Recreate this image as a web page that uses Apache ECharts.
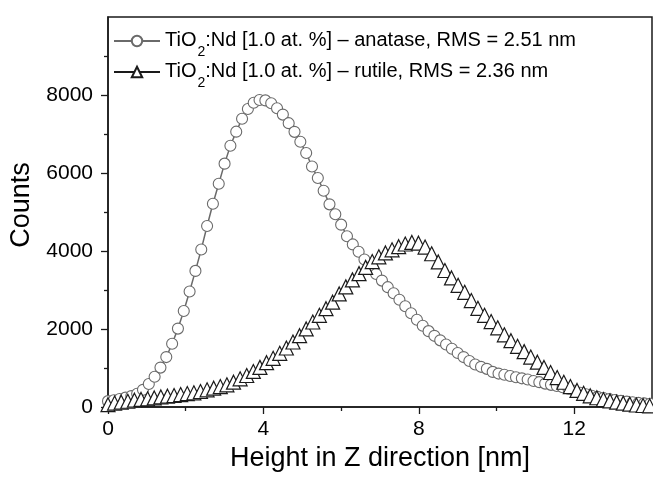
<!DOCTYPE html>
<html>
<head>
<meta charset="utf-8">
<title>Height distribution</title>
<script src="https://cdn.jsdelivr.net/npm/echarts@6/dist/echarts.min.js"></script>
<style>
  html, body { margin: 0; padding: 0; background: #fff; }
  #chart { width: 653px; height: 477px; }
</style>
</head>
<body>
<div id="chart"></div>
<script>
// Height histograms (counts per bin) for the two TiO2:Nd films
const anataseName = 'TiO2:Nd [1.0 at. %] \u2013 anatase, RMS = 2.51 nm';
const rutileName = 'TiO2:Nd [1.0 at. %] \u2013 rutile, RMS = 2.36 nm';

const anataseHeight = [
  0.00, 0.15, 0.30, 0.45, 0.60, 0.75, 0.90, 1.05, 1.20, 1.35,
  1.50, 1.65, 1.80, 1.95, 2.10, 2.25, 2.40, 2.55, 2.70, 2.85,
  3.00, 3.15, 3.30, 3.45, 3.60, 3.75, 3.90, 4.05, 4.20, 4.35,
  4.50, 4.65, 4.80, 4.95, 5.10, 5.25, 5.40, 5.55, 5.70, 5.85,
  6.00, 6.15, 6.30, 6.45, 6.60, 6.75, 6.90, 7.05, 7.20, 7.35,
  7.50, 7.65, 7.80, 7.95, 8.10, 8.25, 8.40, 8.55, 8.70, 8.85,
  9.00, 9.15, 9.30, 9.45, 9.60, 9.75, 9.90, 10.05, 10.20, 10.35,
  10.50, 10.65, 10.80, 10.95, 11.10, 11.25, 11.40, 11.55, 11.70, 11.85,
  12.00, 12.15, 12.30, 12.45, 12.60, 12.75, 12.90, 13.05, 13.20, 13.35,
  13.50, 13.65, 13.80, 13.95
];
const anataseCounts = [
  150, 175, 205, 240, 280, 340, 440, 590, 775, 1010,
  1280, 1620, 2010, 2460, 2960, 3490, 4040, 4640, 5210, 5725,
  6240, 6700, 7060, 7390, 7640, 7800, 7870, 7862, 7790, 7660,
  7497, 7278, 7055, 6800, 6513, 6166, 5870, 5546, 5196, 4942,
  4676, 4380, 4169, 3980, 3782, 3591, 3409, 3241, 3073, 2917,
  2750, 2582, 2403, 2239, 2085, 1945, 1825, 1709, 1602, 1495,
  1384, 1280, 1180, 1090, 1030, 978, 900, 857, 827, 796,
  764, 735, 704, 667, 637, 600, 568, 538, 505, 468,
  415, 365, 327, 290, 260, 230, 203, 178, 157, 137,
  120, 105, 93, 82
];

const rutileHeight = [
  0.00, 0.17, 0.34, 0.51, 0.68, 0.85, 1.02, 1.19, 1.36, 1.53,
  1.70, 1.87, 2.04, 2.21, 2.38, 2.55, 2.72, 2.89, 3.06, 3.23,
  3.40, 3.57, 3.74, 3.91, 4.08, 4.25, 4.42, 4.59, 4.76, 4.93,
  5.10, 5.27, 5.44, 5.61, 5.78, 5.95, 6.12, 6.29, 6.46, 6.63,
  6.80, 6.97, 7.14, 7.31, 7.48, 7.65, 7.82, 7.99, 8.16, 8.33,
  8.50, 8.67, 8.84, 9.01, 9.18, 9.35, 9.52, 9.69, 9.86, 10.03,
  10.20, 10.37, 10.54, 10.71, 10.88, 11.05, 11.22, 11.39, 11.56, 11.73,
  11.90, 12.07, 12.24, 12.41, 12.58, 12.75, 12.92, 13.09, 13.26, 13.43,
  13.60, 13.77, 13.94
];
const rutileCounts = [
  60, 100, 124, 148, 174, 194, 210, 233, 258, 277,
  295, 318, 344, 363, 398, 441, 483, 524, 568, 637,
  722, 808, 911, 1016, 1136, 1248, 1377, 1513, 1667, 1829,
  2002, 2180, 2350, 2521, 2687, 2900, 3080, 3260, 3420, 3580,
  3730, 3850, 3950, 4030, 4110, 4180, 4220, 4200, 4100, 3930,
  3720, 3500, 3310, 3120, 2940, 2730, 2530, 2350, 2190, 2030,
  1850, 1700, 1555, 1420, 1280, 1150, 1015, 885, 755, 635,
  525, 425, 350, 287, 237, 192, 155, 125, 98, 72,
  51, 38, 30
];

// Tick positions
const xMajorTicks = [0, 4, 8, 12];
const xMinorTicks = [2, 6, 10];
const yMajorTicks = [0, 2000, 4000, 6000, 8000];
const yMinorTicks = [1000, 3000, 5000, 7000, 9000];

const FONT = '"Liberation Sans", Arial, sans-serif';
const AXIS_COLOR = '#1a1a1a';

function pairs(xs, ys) {
  return xs.map((x, i) => [x, ys[i]]);
}

const majorAxisCommon = {
  type: 'value',
  axisLine: { show: true, lineStyle: { color: AXIS_COLOR, width: 1.5 } },
  splitLine: { show: false },
  axisTick: { show: true, inside: false, length: 7, lineStyle: { color: AXIS_COLOR, width: 1.3 } },
  axisLabel: { color: '#000', fontFamily: FONT, fontSize: 21, formatter: v => String(v) }
};

const minorAxisCommon = {
  type: 'value',
  axisLine: { show: false },
  splitLine: { show: false },
  axisLabel: { show: false },
  axisTick: { show: true, inside: false, length: 4, lineStyle: { color: AXIS_COLOR, width: 1.3 } }
};

const chart = echarts.init(document.getElementById('chart'), null, { renderer: 'canvas' });

chart.setOption({
  animation: false,
  backgroundColor: '#fff',
  grid: {
    left: 107, right: 1, top: 17, bottom: 70,
    show: true, borderColor: AXIS_COLOR, borderWidth: 1.5, backgroundColor: 'transparent'
  },
  legend: {
    orient: 'vertical',
    left: 113,
    top: 30,
    padding: 0,
    itemWidth: 46,
    itemHeight: 13,
    itemGap: 2,
    selectedMode: false,
    textStyle: {
      fontFamily: FONT, fontSize: 20, color: '#000',
      rich: {
        m: { fontFamily: FONT, fontSize: 20, color: '#000', lineHeight: 22, verticalAlign: 'top' },
        sub: { fontFamily: FONT, fontSize: 14, color: '#000', lineHeight: 14, verticalAlign: 'top', padding: [15, 0, 0, 1] }
      }
    },
    formatter: function (name) {
      const i = name.indexOf('TiO2');
      return '{m|TiO}{sub|2}{m|' + name.slice(i + 4) + '}';
    },
    data: [anataseName, rutileName]
  },
  xAxis: [
    Object.assign({}, majorAxisCommon, {
      min: 0, max: 14,
      axisTick: Object.assign({}, majorAxisCommon.axisTick, { customValues: xMajorTicks }),
      axisLabel: Object.assign({}, majorAxisCommon.axisLabel, { customValues: xMajorTicks, margin: 12 }),
      name: 'Height in Z direction [nm]',
      nameLocation: 'middle',
      nameGap: 33,
      nameTextStyle: { fontFamily: FONT, fontSize: 27, color: '#000' }
    }),
    Object.assign({}, minorAxisCommon, {
      min: 0, max: 14, position: 'bottom',
      axisTick: Object.assign({}, minorAxisCommon.axisTick, { customValues: xMinorTicks })
    })
  ],
  yAxis: [
    Object.assign({}, majorAxisCommon, {
      min: 0, max: 10000,
      axisTick: Object.assign({}, majorAxisCommon.axisTick, { customValues: yMajorTicks }),
      axisLabel: Object.assign({}, majorAxisCommon.axisLabel, { customValues: yMajorTicks, margin: 15 }),
      name: 'Counts',
      nameLocation: 'middle',
      nameGap: 73,
      nameTextStyle: { fontFamily: FONT, fontSize: 27, color: '#000', padding: [0, 0, 0, 14] }
    }),
    Object.assign({}, minorAxisCommon, {
      min: 0, max: 10000, position: 'left',
      axisTick: Object.assign({}, minorAxisCommon.axisTick, { customValues: yMinorTicks })
    })
  ],
  series: [
    {
      name: anataseName,
      type: 'line',
      data: pairs(anataseHeight, anataseCounts),
      symbol: 'circle',
      symbolSize: 11,
      showAllSymbol: true,
      lineStyle: { color: '#6a6a6a', width: 1.5 },
      itemStyle: { color: '#ffffff', borderColor: '#6a6a6a', borderWidth: 1.1 }
    },
    {
      name: rutileName,
      type: 'line',
      data: pairs(rutileHeight, rutileCounts),
      symbol: 'triangle',
      symbolSize: 14,
      showAllSymbol: true,
      lineStyle: { color: '#1a1a1a', width: 1.3 },
      itemStyle: { color: '#ffffff', borderColor: '#1a1a1a', borderWidth: 1.2 }
    }
  ]
});
</script>
</body>
</html>
